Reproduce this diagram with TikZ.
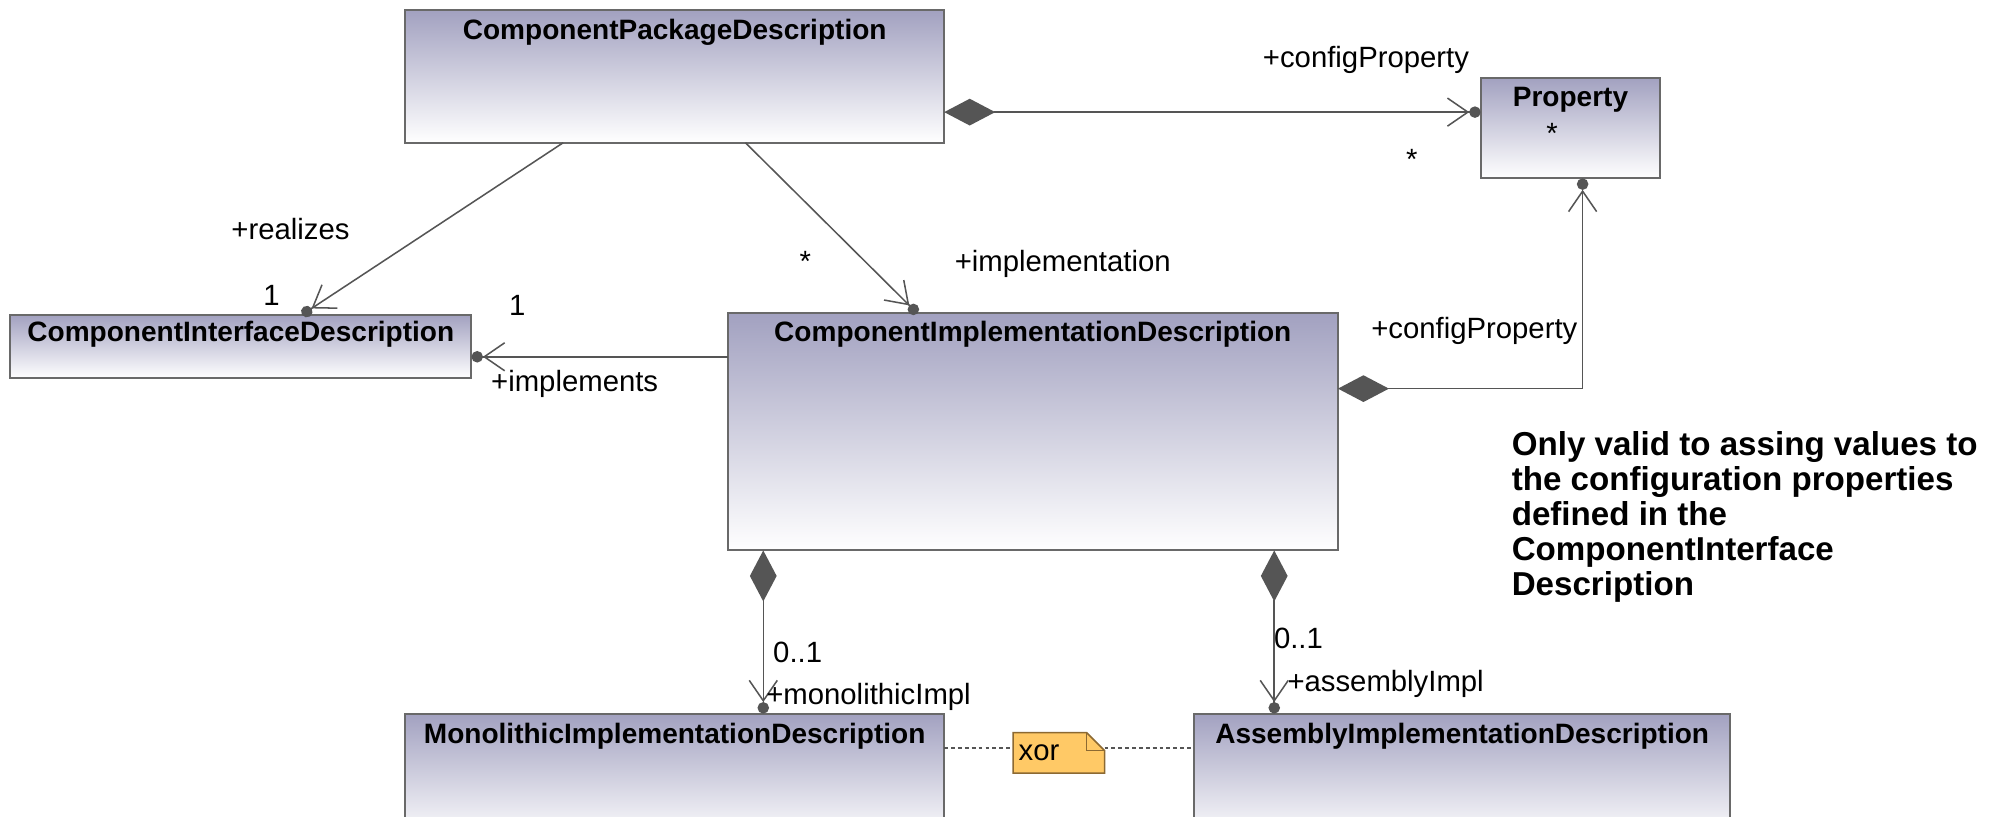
\documentclass[tikz,border=0pt]{standalone}
\usepackage{fontspec}
\setmainfont{Liberation Sans}
\usetikzlibrary{arrows.meta,calc}
\definecolor{boxtop}{RGB}{162,161,192}
\definecolor{boxline}{RGB}{105,105,105}
\definecolor{connc}{RGB}{85,85,85}
\definecolor{notefill}{RGB}{255,201,102}
\definecolor{noteline}{RGB}{140,105,50}
\begin{document}
\begin{tikzpicture}[x=0.5pt,y=-0.5pt,
  umlbox/.style={draw=boxline, line width=0.8pt, top color=boxtop, bottom color=white, anchor=north west, inner sep=0pt, outer sep=0pt},
  title/.style={font=\fontsize{11}{13}\selectfont\bfseries, inner sep=0pt, anchor=center},
  lbl/.style={font=\fontsize{11.5}{13}\selectfont, inner sep=0pt, anchor=center},
  connline/.style={draw=connc, line width=0.6pt},
  comp/.style={connline, {Diamond[length=20pt,width=10.5pt,fill=connc]}-{Straight Barb[length=8pt,width=11pt]Circle[length=4.5pt,fill=connc]}},
  nav/.style={connline, -{Straight Barb[length=8pt,width=11pt]Circle[length=4.5pt,fill=connc]}},
  dotline/.style={draw=connc, line width=0.6pt, dash pattern=on 1.5pt off 1.2pt},
]
\clip (0,0) rectangle (1568,641);
\fill[white] (0,0) rectangle (1568,641);

% class boxes
\node[umlbox, minimum width=211.5pt, minimum height=52pt] (cpd) at (318,8) {};
\node[title] (cpdt) at ($(cpd.north)+(0,17)$) {ComponentPackageDescription};

\node[umlbox, minimum width=70.5pt, minimum height=39.5pt] (prop) at (1162,61) {};
\node[title] (propt) at ($(prop.north)+(0,17)$) {Property};

\node[umlbox, minimum width=181pt, minimum height=25pt] (cid) at (8,247) {};
\node[title] (cidt) at ($(cid.north)+(0,15)$) {ComponentInterfaceDescription};

\node[umlbox, minimum width=239.5pt, minimum height=93pt] (cimpl) at (571,246) {};
\node[title] (cimplt) at ($(cimpl.north)+(0,16)$) {ComponentImplementationDescription};

\node[umlbox, minimum width=211.5pt, minimum height=50pt] (mid) at (318,560) {};
\node[title] (midt) at ($(mid.north)+(0,18)$) {MonolithicImplementationDescription};

\node[umlbox, minimum width=210.5pt, minimum height=50pt] (aid) at (937,560) {};
\node[title] (aidt) at ($(aid.north)+(0,18)$) {AssemblyImplementationDescription};

% xor note
\node[minimum width=35.5pt, minimum height=15.5pt, inner sep=0pt, anchor=north west] (xor) at (795,575) {};
\filldraw[fill=notefill, draw=noteline, line width=0.6pt] (xor.north west) -- ([xshift=-7pt]xor.north east) -- ([yshift=-7pt]xor.north east) -- (xor.south east) -- (xor.south west) -- cycle;
\draw[draw=noteline, line width=0.6pt] ([xshift=-7pt]xor.north east) |- ([yshift=-7pt]xor.north east);
\node[lbl, anchor=west] (xort) at ([xshift=2pt]xor.west) {xor};

% connectors
\draw[comp] ([yshift=-40pt]cpd.north east) -- ([yshift=-13.5pt]prop.north west);
\draw[nav] ([xshift=62pt]cpd.south west) -- ([xshift=114.5pt]cid.north west);
\draw[nav] ([xshift=133.5pt]cpd.south west) -- ([xshift=74.5pt]cimpl.north west);
\draw[nav] ([yshift=-17pt]cimpl.north west) -- ([yshift=-16.5pt]cid.north east);
\draw[comp] ([yshift=-29.5pt]cimpl.north east) -| ([xshift=40pt]prop.south west);
\draw[comp] ([xshift=14pt]cimpl.south west) -- ([xshift=140.5pt]mid.north west);
\draw[comp] ([xshift=214.5pt]cimpl.south west) -- ([xshift=31.5pt]aid.north west);
\draw[dotline] ([yshift=-13.5pt]mid.north east) -- ([yshift=-6pt]xor.north west);
\draw[dotline] ([yshift=-6pt]xor.north east) -- ([yshift=-13.5pt]aid.north west);

% role and multiplicity labels
\node[lbl] (l1) at (1072,47) {+configProperty};
\node[lbl] (l2) at (1218,105) {*};
\node[lbl] (l3) at (1108,125) {*};
\node[lbl] (l4) at (228,180) {+realizes};
\node[lbl] (l5) at (213,232) {1};
\node[lbl] (l6) at (406,240) {1};
\node[lbl] (l7) at (451,301) {+implements};
\node[lbl] (l8) at (632,205) {*};
\node[lbl] (l9) at (834,207) {+implementation};
\node[lbl] (l10) at (1157,260) {+configProperty};
\node[lbl] (l11) at (626,512) {0..1};
\node[lbl, anchor=west] (l12) at (601,547) {+monolithicImpl};
\node[lbl] (l13) at (1019,501) {0..1};
\node[lbl, anchor=west] (l14) at (1010,537) {+assemblyImpl};

% free note text
\node[font=\fontsize{13}{13.8}\selectfont\bfseries, align=left, anchor=north west, inner sep=0pt] (note) at (1186,338)
  {Only valid to assing values to\\the configuration properties\\defined in the\\ComponentInterface\\Description};
\end{tikzpicture}
\end{document}
